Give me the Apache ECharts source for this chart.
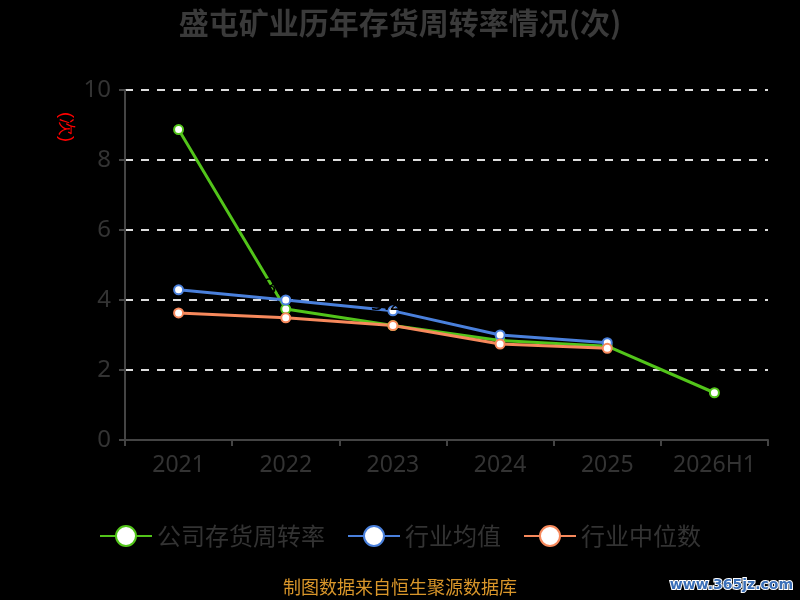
<!DOCTYPE html>
<html>
<head>
<meta charset="utf-8">
<script src="https://cdn.jsdelivr.net/npm/echarts@6/dist/echarts.min.js"></script>
<style>
  html, body { margin: 0; padding: 0; background: #000; }
  #main { width: 800px; height: 600px; }
</style>
</head>
<body>
<div id="main"></div>
<script>
// 数据
var years = ['2021', '2022', '2023', '2024', '2025', '2026H1'];
var companyTurnover = [8.87, 3.74, 3.27, 2.84, 2.68, 1.35];
var industryAvg = [4.29, 4.00, 3.69, 3.00, 2.78];
var industryMedian = [3.63, 3.49, 3.27, 2.74, 2.62];
var yTicks = [0, 2, 4, 6, 8, 10];

var chart = echarts.init(document.getElementById('main'));

function lineSeries(name, data, color, withLabel) {
  return {
    name: name,
    type: 'line',
    data: data,
    symbol: 'emptyCircle',
    symbolSize: 9,
    lineStyle: { width: 3, color: color },
    itemStyle: { color: color, borderWidth: 2 },
    label: {
      show: withLabel,
      position: 'top',
      color: '#000',
      fontSize: 22,
      fontFamily: 'Noto Sans'
    }
  };
}

var option = {
  backgroundColor: '#000',
  animation: false,
  title: {
    text: '盛屯矿业历年存货周转率情况(次)',
    left: 'center',
    top: 3,
    textStyle: {
      color: '#3a3a3a',
      fontSize: 30,
      fontWeight: 'bold',
      fontFamily: 'Noto Sans CJK SC'
    }
  },
  legend: {
    bottom: 47,
    left: 'center',
    itemWidth: 52,
    itemHeight: 25,
    itemGap: 22,
    textStyle: { color: '#333', fontSize: 24, fontFamily: 'Noto Sans CJK SC' },
    data: ['公司存货周转率', '行业均值', '行业中位数']
  },
  grid: { left: 125, right: 32, top: 90, bottom: 160 },
  xAxis: {
    type: 'category',
    data: years,
    boundaryGap: true,
    axisLine: { lineStyle: { color: '#444', width: 2 } },
    axisTick: { show: true, length: 6, lineStyle: { color: '#444', width: 2 } },
    axisLabel: { color: '#333', fontSize: 23, margin: 14, interval: 0, fontFamily: 'Noto Sans' }
  },
  yAxis: {
    type: 'value',
    min: yTicks[0],
    max: yTicks[yTicks.length - 1],
    interval: 2,
    name: '(次)',
    nameLocation: 'end',
    nameRotate: -90,
    nameGap: -22,
    nameTextStyle: {
      color: '#f00', fontSize: 18, align: 'left', verticalAlign: 'top',
      padding: [50, 0, 0, 0]
    },
    axisLine: { show: true, lineStyle: { color: '#444', width: 2 } },
    axisTick: { show: true, length: 6, lineStyle: { color: '#444', width: 2 } },
    axisLabel: { color: '#333', fontSize: 24, margin: 14, fontFamily: 'Noto Sans' },
    splitLine: { lineStyle: { color: '#ddd', type: [8, 8], width: 2 } }
  },
  graphic: [
    {
      type: 'text',
      left: 'center',
      top: 578,
      style: {
        text: '制图数据来自恒生聚源数据库',
        fill: '#d9962a',
        font: '18px "Noto Sans CJK SC"'
      }
    },
    {
      type: 'text',
      right: 6,
      top: 577,
      style: {
        text: 'www.365jz.com',
        fill: '#3a6fb8',
        stroke: '#fff',
        lineWidth: 2,
        font: 'bold 14px "DejaVu Sans"'
      }
    }
  ],
  series: [
    lineSeries('公司存货周转率', companyTurnover, '#52c41a', true),
    lineSeries('行业均值', industryAvg, '#4a80dc', false),
    lineSeries('行业中位数', industryMedian, '#f7895c', false)
  ]
};

chart.setOption(option);
</script>
</body>
</html>
